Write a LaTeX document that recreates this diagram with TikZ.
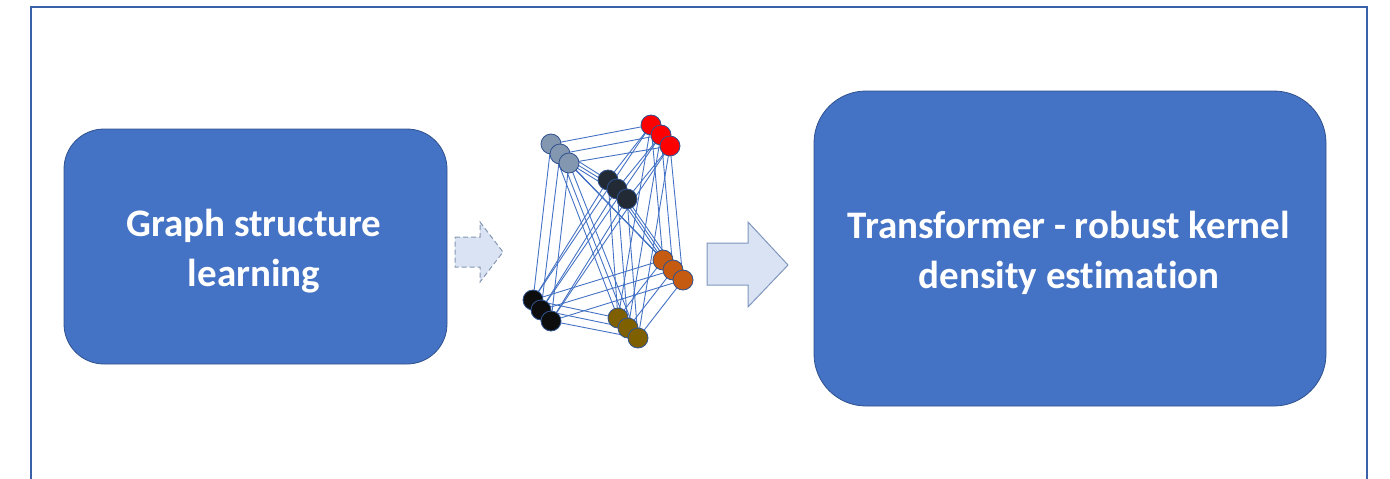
\documentclass[tikz,border=0pt]{standalone}
\usepackage{fontspec}
\newfontfamily\calfont[Ligatures={NoCommon,NoContextual}]{Carlito}
\usetikzlibrary{backgrounds}
\definecolor{accent}{HTML}{4472C4}
\definecolor{accentdark}{HTML}{2F528F}
\definecolor{arrowfill}{HTML}{DAE3F3}
\definecolor{arrowline}{HTML}{7F96BE}
\definecolor{cgray}{HTML}{8497B0}
\definecolor{cred}{HTML}{FF0000}
\definecolor{cnavy}{HTML}{222A35}
\definecolor{corange}{HTML}{C55A11}
\definecolor{cblack}{HTML}{0D0D0D}
\definecolor{colive}{HTML}{7F6000}
\tikzset{
  bluebox/.style={draw=accentdark, line width=0.8pt, fill=accent, inner sep=0pt},
  boxtext/.style={text=white, align=center, font=\calfont\bfseries\fontsize{39}{50}\selectfont},
  dot/.style={circle, draw=accentdark, line width=0.8pt, minimum size=20pt, inner sep=0pt},
  edge/.style={draw=accent, line width=0.9pt},
  blockarrow/.style={fill=arrowfill, draw=arrowline, line width=1pt, line join=miter}
}
\begin{document}
\begin{tikzpicture}[x=1pt,y=-1pt]
\useasboundingbox (0,0) rectangle (1390,479);
% frame
\draw[accent!85!black, line width=1.5pt] (31,482) -- (31,7) -- (1367,7) -- (1367,482);
% boxes
\node[bluebox, rounded corners=40pt, minimum width=383pt, minimum height=235pt] (gsl) at (255.5,246.5) {};
\node[boxtext] (gsltext) at (254,251) {Graph structure\\learning};
\node[bluebox, rounded corners=52pt, minimum width=512pt, minimum height=315pt] (tr) at (1070,248.5) {};
\node[boxtext] (trtext) at (1069,253) {Transformer - robust kernel\\density est\kern0pt imation};
% block arrows
\draw[blockarrow, draw=cgray, dash pattern=on 5pt off 3pt]
  (455,237) -- (480,237) -- (480,222) -- (503,252) -- (480,282) -- (480,267) -- (455,267) -- cycle;
\draw[blockarrow]
  (707,243) -- (748,243) -- (748,222) -- (788,265) -- (748,307) -- (748,285) -- (707,285) -- cycle;
% graph clusters
\foreach \n/\c/\xa/\ya/\xb/\yb/\xc/\yc in {
  a/cgray/551/144/560/154/569/163,
  b/cred/651/125/661/135/670/146,
  c/cnavy/608/180/617/189/627/199,
  d/corange/663/260/673/270/683/280,
  e/cblack/533/300/541/310/551/321,
  f/colive/618/318/628/328/638/338}{
  \node[dot, fill=\c] (\n1) at (\xa,\ya) {};
  \node[dot, fill=\c] (\n2) at (\xb,\yb) {};
  \node[dot, fill=\c] (\n3) at (\xc,\yc) {};
}
\begin{scope}[on background layer]
\foreach \p/\q in {a/b,a/c,a/d,a/e,a/f,b/c,b/d,b/e,b/f,c/d,c/e,c/f,d/e,d/f,e/f}{
  \foreach \i in {1,2,3}{
    \draw[edge] (\p\i.center) -- (\q\i.center);
  }
}
\end{scope}
\end{tikzpicture}
\end{document}
